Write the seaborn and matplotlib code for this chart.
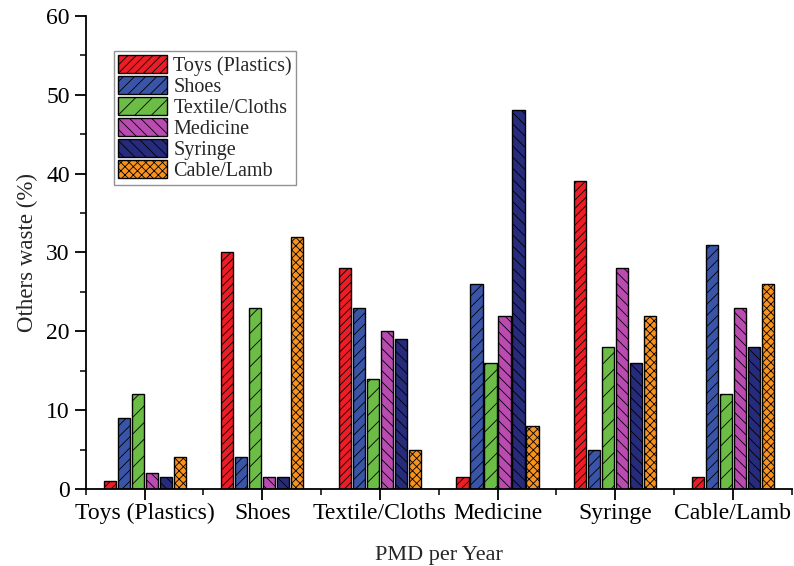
import numpy as np
import pandas as pd
import matplotlib
matplotlib.use("Agg")
import matplotlib.pyplot as plt
import seaborn as sns
from matplotlib.ticker import MultipleLocator, FixedLocator

categories = ["Toys (Plastics)", "Shoes", "Textile/Cloths", "Medicine", "Syringe", "Cable/Lamb"]
series = ["Toys (Plastics)", "Shoes", "Textile/Cloths", "Medicine", "Syringe", "Cable/Lamb"]

toys_vals = [1, 30, 28, 1.5, 39, 1.5]
shoes_vals = [9, 4, 23, 26, 5, 31]
textile_vals = [12, 23, 14, 16, 18, 12]
medicine_vals = [2, 1.5, 20, 22, 28, 23]
syringe_vals = [1.5, 1.5, 19, 48, 16, 18]
cable_vals = [4, 32, 5, 8, 22, 26]

colors = ["#ee1d25", "#3a55a8", "#6cbd45", "#b94bb1", "#262b7c", "#f7921e"]
hatches = ["////", "///", "//", "\\\\\\", "\\\\\\", "xxxx"]

values = [toys_vals, shoes_vals, textile_vals, medicine_vals, syringe_vals, cable_vals]
rows = []
for s, vals in zip(series, values):
    for c, v in zip(categories, vals):
        rows.append({"cat": c, "series": s, "val": v})
df = pd.DataFrame(rows)

sns.set_style("ticks")
plt.rcParams["font.family"] = ["Liberation Serif", "DejaVu Serif"]
plt.rcParams["hatch.linewidth"] = 0.6

fig = plt.figure(figsize=(7.94, 5.66), dpi=100)
ax = fig.add_axes([0.108, 0.136, 0.889, 0.836])

sns.barplot(data=df, x="cat", y="val", hue="series", order=categories,
            hue_order=series, palette=colors, saturation=1, width=0.714, gap=0.14,
            edgecolor="black", linewidth=1.0, ax=ax, legend=False)

for cont, h in zip(ax.containers, hatches):
    for p in cont.patches:
        p.set_hatch(h)
        p.set_edgecolor("black")

ax.set_xlim(-0.5, 5.5)
ax.set_ylim(0, 60)
ax.yaxis.set_major_locator(MultipleLocator(10))
ax.yaxis.set_minor_locator(MultipleLocator(5))
ax.xaxis.set_minor_locator(FixedLocator(np.arange(-0.5, 6.0, 1.0)))

for side in ["top", "right"]:
    ax.spines[side].set_visible(False)
for side in ["left", "bottom"]:
    ax.spines[side].set_linewidth(1.3)
    ax.spines[side].set_color("black")

ax.tick_params(axis="both", which="major", direction="out", length=8, width=1.3,
               labelsize=17, colors="black")
ax.tick_params(axis="x", which="major", pad=2)
ax.tick_params(axis="both", which="minor", direction="out", length=4, width=1.3)

ax.set_xlabel("PMD per Year", fontsize=16, labelpad=16)
ax.set_ylabel("Others waste (%)", fontsize=16.5, labelpad=6)

leg = ax.legend(handles=list(ax.containers), labels=series, loc="upper left",
                bbox_to_anchor=(0.04, 0.925), borderaxespad=0, fontsize=14.5,
                frameon=True, fancybox=False, edgecolor="#777777",
                handlelength=2.45, handleheight=1.0, labelspacing=0.0,
                handletextpad=0.3, borderpad=0.2)
leg.get_frame().set_linewidth(1.0)

fig.savefig("out.png", dpi=100)
